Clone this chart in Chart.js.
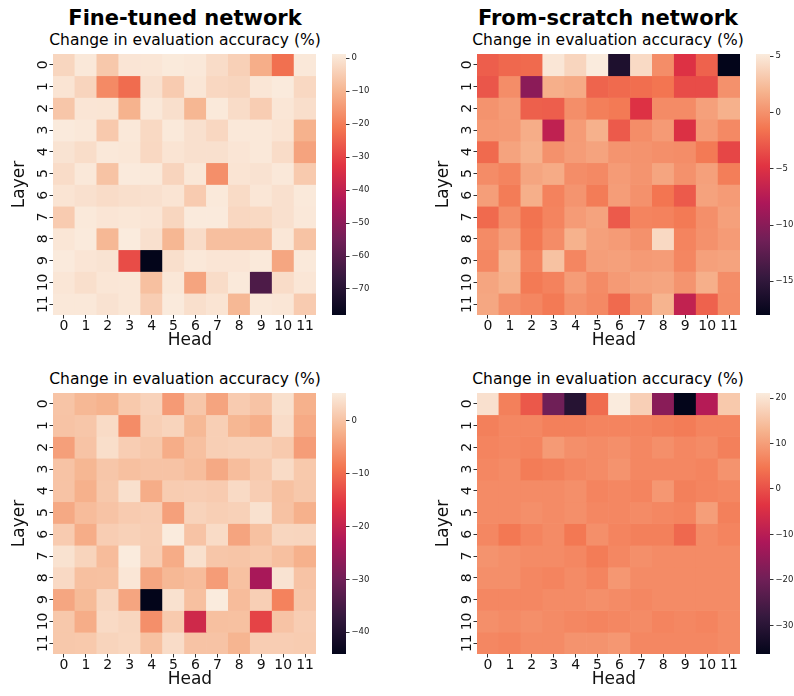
<!DOCTYPE html>
<html>
<head>
<meta charset="utf-8">
<script src="https://cdn.jsdelivr.net/npm/chart.js@4.4.1/dist/chart.umd.min.js"></script>
<style>
  body { margin: 0; width: 794px; height: 696px; background: #fff; position: relative; overflow: hidden; font-family: "DejaVu Sans", sans-serif; }
  .title, .sub { position: absolute; width: 400px; text-align: center; color: #000; white-space: nowrap; }
  .title { font-size: 21px; font-weight: bold; line-height: 21px; }
  .sub { font-size: 15.5px; line-height: 15.5px; }
  canvas { position: absolute; }
</style>
</head>
<body>
<div class="title" style="left:-15px; top:8px">Fine-tuned network</div>
<div class="title" style="left:408px; top:8px">From-scratch network</div>
<div class="sub" style="left:-15px; top:33px">Change in evaluation accuracy (%)</div>
<div class="sub" style="left:408px; top:33px">Change in evaluation accuracy (%)</div>
<div class="sub" style="left:-15px; top:372px">Change in evaluation accuracy (%)</div>
<div class="sub" style="left:408px; top:372px">Change in evaluation accuracy (%)</div>

<canvas id="h1" width="322" height="307" style="left:0px; top:48px"></canvas>
<canvas id="c1" width="54" height="277" style="left:332px; top:46px"></canvas>
<canvas id="h2" width="322" height="307" style="left:424px; top:48px"></canvas>
<canvas id="c2" width="54" height="277" style="left:756px; top:46px"></canvas>
<canvas id="h3" width="322" height="307" style="left:0px; top:387px"></canvas>
<canvas id="c3" width="54" height="277" style="left:332px; top:385px"></canvas>
<canvas id="h4" width="322" height="307" style="left:424px; top:387px"></canvas>
<canvas id="c4" width="54" height="277" style="left:756px; top:385px"></canvas>

<script>
const heads = ["0", "1", "2", "3", "4", "5", "6", "7", "8", "9", "10", "11"];
const layers = ["0", "1", "2", "3", "4", "5", "6", "7", "8", "9", "10", "11"];

// rows = layers, columns = heads
const fineTunedTop = [
  [-3, 0.7, -5.9, 0.1, 0.3, 1.0, 0.7, -1.8, -4.2, -11.1, -22.4, 0.7],
  [-0.1, -3.4, -17.7, -23, -0.9, -5.3, 0.3, -2.8, -3.2, 0.3, 1.1, -2.6],
  [-6.3, 0.1, 0, -10.2, 0.7, -1.1, -9.4, 0.9, -1.8, -4.8, 0.3, -1.3],
  [1.1, 0.7, -5.7, 0.7, -2.4, 0.9, -0.9, -2.8, 0.7, 0.7, -0.1, -10.4],
  [-0.3, -1.6, 0.7, 0.5, -2.6, -0.1, -0.9, -0.9, 0.1, 0.7, -1.8, -13.1],
  [-1.8, 0.7, -6.9, 1.1, 0.9, -3.4, 0.5, -16.8, -0.1, -0.5, 0.7, -5.5],
  [-0.1, -0.9, -1.8, -1.1, -0.9, -0.1, -5.3, 0.9, -2.0, 0.3, -0.9, 0.9],
  [-5.3, 0.9, 0.1, 0.5, 0.1, -3.0, 1.1, 1.1, -2.8, -2.4, -0.9, 0.7],
  [0.3, 1.1, -9.2, 1.3, -0.9, -9.4, -1.8, -7.7, -7.7, -7.7, 0.5, -6.9],
  [1.1, 0.1, -0.3, -28.5, -77.9, -1.1, 0.7, 0.1, 0.1, 0.9, -12.5, 0.9],
  [0.3, -1.1, 0.3, 0.5, -7.5, 0.5, -12.9, -1.8, 0.9, -62, -1.8, 0.3],
  [0.7, 0.7, -0.5, 0.5, -4.8, 1.1, -1.1, -0.1, -9.2, 0.7, 0.3, -5.3]
];

const scratchTop = [
  [-2.6, -2.1, -2.0, 4.9, 3.9, 5.2, -16.2, 4.2, -0.2, -5.0, -2.4, -18],
  [-3.0, -0.2, -9.9, 1.6, 1.35, -2.3, -2.0, -1.8, -1.5, -3.5, -3.5, 0],
  [0.1, 0.55, -2.5, -2.6, -0.15, -0.95, -1.2, -5.0, -0.3, -0.3, 0.8, 1.7],
  [0.4, 0.5, 1.5, -6.9, 0.55, 1.7, -2.8, -0.2, 0.5, -5.1, 0.5, -0.4],
  [-2.0, 1.0, 1.7, 0, 0.6, 1.0, 0.2, 0.1, -0.1, -0.2, -1.2, -3.8],
  [-0.25, -0.7, 1.1, 1.4, -0.2, -0.4, 0.55, 0.2, 1.1, 0, 0.8, -1.0],
  [0.7, -1.1, 1.6, -0.8, 0.2, -1.1, 0.65, 0, -1.5, -2.8, 0.9, 0.55],
  [-2.0, -0.2, -1.6, -0.7, 0.55, 1.0, -2.8, -0.7, -0.8, -1.2, -0.1, 0.8],
  [-0.3, 0.7, -1.3, -0.25, 1.8, 0.8, 0.55, 0, 4.1, -0.7, 0, 0.55],
  [-0.5, 2.0, -0.7, 2.7, -0.6, 0.7, 0.8, 0.5, 0.6, -0.6, 0.8, 1.0],
  [1.1, 1.7, -1.2, -0.8, 0.6, -0.3, 0.5, 0.9, 1.1, 0.2, 1.6, -0.2],
  [1.2, -0.1, -0.6, -1.2, 0, -0.4, -2.0, 0, 1.9, -6.8, -2.4, -0.25]
];

const fineTunedBottom = [
  [0.2, -1.3, -2, 0.8, 2, -4.8, 0.5, -3.7, 1.1, 0.1, 3.8, -2.2],
  [0.1, 0.5, 3.1, -6.4, 1.6, 2.2, -1.2, 1.6, -1.5, -2.4, 3.3, -3.0],
  [-4.2, 0.1, 3.5, 1.4, 0.7, -2.6, -0.3, 1.6, 1.9, 1.9, 1.0, -4.4],
  [0.1, -1.5, 0.5, -0.3, 0.1, 0.1, -0.7, -3.1, -0.7, 1.0, 3.1, 0.8],
  [0.1, -2.2, 0.7, 3.8, -2.6, 1.2, 1.4, 1.1, 3.0, 1.4, -0.2, 0.7],
  [-3.1, -0.8, 0.1, 1.1, 1.4, -4.1, 2.1, 1.6, 1.9, 3.9, 0, -2.2],
  [1.1, -2.6, 1.4, 1.9, 1.5, 5.2, 0.1, 3.1, -3.7, -0.2, 2.5, 2.4],
  [4.0, 2.2, -0.8, 5.2, 1.4, -2.8, 3.8, 0.5, 0.3, 0.8, -0.3, -2.2],
  [2.9, -0.3, -0.2, 4.6, -3.4, -1.3, -0.8, -4.6, -0.2, -23.5, 4.2, 0.1],
  [-3.4, -1.0, 2.5, -3.6, -44.1, 3.9, -0.3, 5.2, -0.8, 1.6, -7.5, 0.5],
  [0.7, -2.6, 3.0, 2.5, -6.1, 1.0, -18.5, -0.3, -0.2, -14.2, 0.1, 1.4],
  [0.7, 0.8, 2.2, 2.6, -0.2, 3.3, 0.1, 0.1, -1.7, 1.4, 1.4, 1.2]
];

const scratchBottom = [
  [19.5, 6, 1, -20, -30.5, 3.5, 21.1, 17, -16.5, -36.3, -10.5, 16],
  [6, 7, 7, 6, 6, 6.5, 6.5, 6.5, 6, 5.5, 6.5, 6.5],
  [6.5, 7, 6.5, 9.5, 8, 7.5, 8, 7, 8, 7, 7.5, 6],
  [7, 7.5, 5.5, 6, 7, 7.5, 8.5, 7, 7, 7, 6.5, 8.5],
  [7.5, 7.5, 7.5, 7.5, 8, 6.5, 7, 6.5, 9, 6, 6.5, 7],
  [7.5, 7.5, 8, 7.5, 8, 7, 7, 7.5, 7, 6.5, 10, 6],
  [7, 5, 6.5, 7.5, 5, 8, 6.5, 6, 6, 3, 7.5, 6.5],
  [8.5, 8, 7.5, 7.5, 7, 5.5, 7, 8, 7.5, 7.5, 7.5, 7.5],
  [8, 8, 7, 6.5, 7.5, 6.5, 9, 7.5, 7.5, 7.5, 7.5, 7.5],
  [7, 7, 7, 7.5, 7.5, 8, 7.5, 7, 7.5, 7.5, 7.5, 7.5],
  [8, 7.5, 8, 7.5, 7, 6.5, 7, 7.5, 6.5, 7, 6.5, 7.5],
  [7, 6.5, 7.5, 7.5, 8.5, 8.5, 9, 7, 7, 7, 7, 7.5]
];

// seaborn "rocket" colormap, sampled
const rocketStops = ["#03051a", "#35193e", "#701f57", "#ad1759", "#e13342", "#f37651", "#f6b48f", "#faebdd"];

Chart.defaults.font.family = "'DejaVu Sans', sans-serif";
Chart.defaults.color = "#111";

function hexRgb(h) {
  return [1, 3, 5].map(i => parseInt(h.slice(i, i + 2), 16));
}

function rocket(t) {
  t = Math.max(0, Math.min(1, t));
  const n = rocketStops.length - 1;
  const k = Math.min(n - 1, Math.floor(t * n));
  const f = t * n - k;
  const a = hexRgb(rocketStops[k]), b = hexRgb(rocketStops[k + 1]);
  const c = a.map((v, i) => Math.round(v + (b[i] - v) * f));
  return `rgb(${c[0]},${c[1]},${c[2]})`;
}

function range(values) {
  const flat = values.flat();
  return [Math.min(...flat), Math.max(...flat)];
}

const tickGrid = { drawOnChartArea: false, tickLength: 3.5, color: "#333", tickWidth: 1 };

function heatmap(id, values) {
  const [lo, hi] = range(values);
  new Chart(document.getElementById(id), {
    type: "bar",
    data: {
      labels: heads,
      datasets: layers.map((l, i) => ({
        label: "Layer " + l,
        data: heads.map(() => [i, i + 1]),
        backgroundColor: values[i].map(v => rocket((v - lo) / (hi - lo))),
        borderWidth: 0,
        barPercentage: 1,
        categoryPercentage: 1,
        grouped: false
      }))
    },
    options: {
      responsive: false,
      animation: false,
      layout: { padding: { top: 6, right: 6, left: 0, bottom: 0 } },
      plugins: { legend: { display: false }, tooltip: { enabled: false } },
      scales: {
        x: {
          grid: { ...tickGrid, offset: false },
          border: { display: false },
          ticks: { font: { size: 14 }, padding: -1, maxRotation: 0 },
          // matplotlib's label sits a little right of centre here
          title: { display: true, text: "  Head", font: { size: 17 }, padding: { top: 0, bottom: 4 } },
          afterFit: s => { s.height = 40; }
        },
        y: {
          type: "linear",
          min: 0,
          max: 12,
          reverse: true,
          afterBuildTicks: s => { s.ticks = layers.map((l, i) => ({ value: i + 0.5 })); },
          grid: tickGrid,
          border: { display: false },
          ticks: {
            callback: (v, i) => layers[i],
            minRotation: 90,
            maxRotation: 90,
            crossAlign: "center",
            padding: -2.5,
            font: { size: 14 }
          },
          title: { display: true, text: "Layer", font: { size: 17 }, padding: { top: 9, bottom: 0 } },
          afterFit: s => { s.width = 53; }
        }
      }
    }
  });
}

function colorbar(id, values, step) {
  const [lo, hi] = range(values);
  new Chart(document.getElementById(id), {
    type: "bar",
    data: {
      labels: [""],
      datasets: [{
        data: [[lo, hi]],
        backgroundColor: c => {
          const a = c.chart.chartArea;
          if (!a) return rocket(0.5);
          const g = c.chart.ctx.createLinearGradient(0, a.bottom, 0, a.top);
          rocketStops.forEach((s, k) => g.addColorStop(k / (rocketStops.length - 1), s));
          return g;
        },
        borderWidth: 0,
        barPercentage: 1,
        categoryPercentage: 1
      }]
    },
    options: {
      responsive: false,
      animation: false,
      layout: { padding: { top: 8, bottom: 8, left: 0, right: 0 } },
      plugins: { legend: { display: false }, tooltip: { enabled: false } },
      scales: {
        x: { display: false },
        y: {
          position: "right",
          min: lo,
          max: hi,
          grid: { drawOnChartArea: false, tickLength: 3.5, color: "#333", tickWidth: 1 },
          border: { display: false },
          ticks: {
            stepSize: step,
            includeBounds: false,
            padding: 2,
            color: "#222",
            font: { size: 8.5 },
            callback: v => String(v).replace("-", "\u2212")
          },
          afterFit: s => { s.width = 40; }
        }
      }
    }
  });
}

heatmap("h1", fineTunedTop);
colorbar("c1", fineTunedTop, 10);
heatmap("h2", scratchTop);
colorbar("c2", scratchTop, 5);
heatmap("h3", fineTunedBottom);
colorbar("c3", fineTunedBottom, 10);
heatmap("h4", scratchBottom);
colorbar("c4", scratchBottom, 10);
</script>
</body>
</html>
